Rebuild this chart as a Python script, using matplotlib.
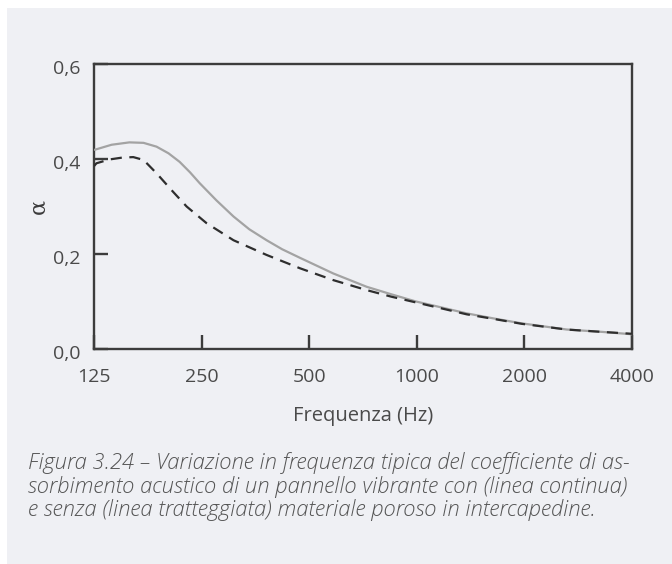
import matplotlib
matplotlib.use("Agg")
import matplotlib.pyplot as plt
from matplotlib.ticker import FixedLocator, FixedFormatter, NullLocator
from matplotlib.transforms import ScaledTranslation

# Absorption coefficient vs frequency for a vibrating panel
freq_with = [125, 140, 157, 172, 187, 202, 217, 232, 247, 275, 307, 340, 380, 420, 471,
             584, 724, 850, 995, 1180, 1379, 1650, 1966, 2626, 3300, 4000]
alpha_with = [0.419, 0.430, 0.435, 0.434, 0.426, 0.412, 0.394, 0.372, 0.349, 0.313, 0.279,
              0.252, 0.229, 0.210, 0.192, 0.159, 0.131, 0.115, 0.100, 0.087, 0.075,
              0.064, 0.054, 0.041, 0.036, 0.031]

freq_without = [125, 127, 138, 150, 161, 172, 187, 208, 227, 258, 307, 380, 471,
                584, 724, 850, 995, 1180, 1379, 1650, 1966, 2626, 3300, 4000]
alpha_without = [0.385, 0.391, 0.399, 0.403, 0.404, 0.398, 0.370, 0.331, 0.300, 0.265,
                 0.229, 0.198, 0.170, 0.145, 0.124, 0.110, 0.098, 0.085, 0.073, 0.063,
                 0.053, 0.041, 0.036, 0.032]

x_ticks = [125, 250, 500, 1000, 2000, 4000]
x_tick_labels = ["125", "250", "500", "1000", "2000", "4000"]
y_ticks = [0.0, 0.2, 0.4, 0.6]
y_tick_labels = ["0,0", "0,2", "0,4", "0,6"]

caption_lines = [
    "Figura 3.24 \u2013 Variazione in frequenza tipica del coefficiente di as-",
    "sorbimento acustico di un pannello vibrante con (linea continua)",
    "e senza (linea tratteggiata) materiale poroso in intercapedine.",
]

W, H = 672, 564
bg = "#eff0f4"
ink = "#3c3c3c"
text_col = "#4a4a4a"
font = "Open Sans"

fig = plt.figure(figsize=(W / 100, H / 100), dpi=100)
fig.patch.set_facecolor("white")
# light panel behind the figure
fig.patches.append(plt.Rectangle((7 / W, 0), (W - 7) / W, (H - 8) / H,
                                 transform=fig.transFigure, facecolor=bg,
                                 edgecolor="none", zorder=-10))

left, right, top, bottom = 94, 632, 64, 349
ax = fig.add_axes([left / W, 1 - bottom / H, (right - left) / W, (bottom - top) / H])
ax.set_facecolor(bg)

ax.plot(freq_with, alpha_with, color="#a3a3a3", lw=1.6, solid_capstyle="butt", zorder=3)
ax.plot(freq_without, alpha_without, color="#2e2e2e", lw=1.6,
        linestyle=(0, (5.0, 3.4)), zorder=4)

ax.set_xscale("log")
ax.set_xlim(125, 4000)
ax.set_ylim(0, 0.6)
ax.xaxis.set_major_locator(FixedLocator(x_ticks))
ax.xaxis.set_major_formatter(FixedFormatter(x_tick_labels))
ax.xaxis.set_minor_locator(NullLocator())
ax.yaxis.set_major_locator(FixedLocator(y_ticks))
ax.yaxis.set_major_formatter(FixedFormatter(y_tick_labels))

for s in ax.spines.values():
    s.set_color(ink)
    s.set_linewidth(1.7)

ax.tick_params(axis="both", direction="in", length=10, width=1.7, color=ink,
               labelcolor=text_col, labelsize=14)
ax.tick_params(axis="x", pad=14)
ax.tick_params(axis="y", pad=10)
shift_down = ScaledTranslation(0, -3 / 100, fig.dpi_scale_trans)
for lab in ax.get_xticklabels():
    lab.set_family(font)
for lab in ax.get_yticklabels():
    lab.set_family(font)
    lab.set_transform(lab.get_transform() + shift_down)

ax.set_xlabel("Frequenza (Hz)", family=font, fontsize=14.5, color=text_col, labelpad=14)
fig.text(38 / W, 1 - 207 / H, "\u03b1", rotation=90, ha="center", va="center",
         family="DejaVu Serif", fontsize=16, color=ink)

for i, line in enumerate(caption_lines):
    fig.text(28 / W, 1 - (469 + 23.5 * i) / H, line, ha="left", va="baseline",
             family=font, style="italic", fontweight="light", fontsize=15.8,
             color="#555555")

fig.savefig("out.png", dpi=100, facecolor=fig.get_facecolor())
